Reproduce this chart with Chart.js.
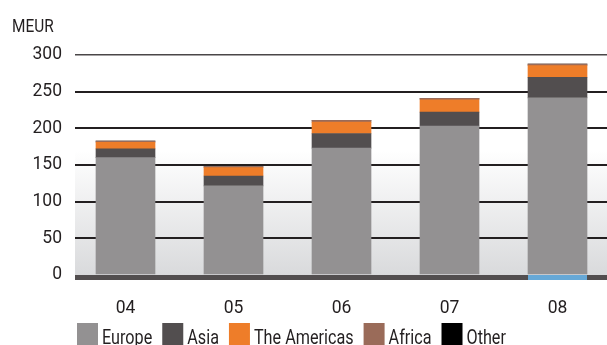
<!DOCTYPE html>
<html>
<head>
<meta charset="utf-8">
<script src="https://cdn.jsdelivr.net/npm/chart.js@4"></script>
<style>
  html, body { margin: 0; padding: 0; background: #fff; overflow: hidden; }
  #wrap { width: 607px; height: 345px; }
</style>
</head>
<body>
<div id="wrap"><canvas id="c" width="607" height="345"></canvas></div>
<script>
// Sales by region, MEUR
const categories = ['04', '05', '06', '07', '08'];
const europe   = [160, 121.5, 173, 203, 241.5];
const asia     = [12, 13.5, 20, 19, 28];
const americas = [9, 11.5, 15.5, 17, 16];
const africa   = [1.5, 1.5, 2.5, 2, 2];
const other    = [0, 0, 0, 0, 0];
const yTicks   = [0, 50, 100, 150, 200, 250, 300];
const seriesNames  = ['Europe', 'Asia', 'The Americas', 'Africa', 'Other'];
const seriesColors = ['#939192', '#524e4f', '#ee7d29', '#9a6b59', '#000000'];
const unitLabel = 'MEUR';
const baseHighlight = [false, false, false, false, true];

const FONT = "Roboto, 'Liberation Sans', sans-serif";
const INK = '#231f20';
const NARROW = 0.81; // horizontal squeeze for caption and legend text

const seriesValues = [europe, asia, americas, africa, other];

const datasets = seriesValues.map((vals, s) => ({
  label: seriesNames[s],
  data: vals.map((v, i) => ({ x: i, y: v })),
  backgroundColor: seriesColors[s],
  borderWidth: 0,
  barThickness: 59,
  stack: 'regions'
}));

// light grey shading rising from the lower part of the plot
const shading = {
  id: 'shading',
  beforeDraw(chart) {
    const { ctx, chartArea: a, scales: { y } } = chart;
    const g = ctx.createLinearGradient(0, y.getPixelForValue(170), 0, a.bottom);
    g.addColorStop(0, '#ffffff');
    g.addColorStop(1, '#d9dadc');
    ctx.save();
    ctx.fillStyle = g;
    ctx.fillRect(a.left, a.top, a.right - a.left, a.bottom - a.top);
    ctx.restore();
  }
};

function narrowText(ctx, text, x, y) {
  ctx.save();
  ctx.translate(x, y);
  ctx.scale(NARROW, 1);
  ctx.fillText(text, 0, 0);
  ctx.restore();
  return ctx.measureText(text).width * NARROW;
}

// thick base band under zero, plus unit caption and legend row
const extras = {
  id: 'extras',
  afterDatasetsDraw(chart) {
    const { ctx, chartArea: a, scales: { y } } = chart;
    const y0 = y.getPixelForValue(0);
    ctx.save();
    ctx.fillStyle = '#524e4f';
    ctx.fillRect(a.left, y0, a.right - a.left, 5);
    const bars = chart.getDatasetMeta(0).data;
    baseHighlight.forEach((on, i) => {
      if (!on) return;
      const b = bars[i];
      ctx.fillStyle = '#66a8d6';
      ctx.fillRect(b.x - b.width / 2, y0, b.width, 5);
    });
    ctx.restore();
  },
  afterDraw(chart) {
    const ctx = chart.ctx;
    ctx.save();
    ctx.fillStyle = INK;
    ctx.textBaseline = 'alphabetic';
    ctx.font = '19px ' + FONT;
    narrowText(ctx, unitLabel, 12, 32);

    ctx.font = '20px ' + FONT;
    let x = 77;
    seriesNames.forEach((name, s) => {
      ctx.fillStyle = seriesColors[s];
      ctx.fillRect(x, 323, 21, 22);
      ctx.fillStyle = INK;
      const w = narrowText(ctx, name, x + 25, 344);
      x += 25 + w + 10;
    });
    ctx.restore();
  }
};

Chart.defaults.font.family = FONT;

new Chart(document.getElementById('c'), {
  type: 'bar',
  data: { datasets },
  plugins: [shading, extras],
  options: {
    responsive: false,
    animation: false,
    devicePixelRatio: 1,
    layout: { padding: { top: 55, left: 0, right: 0, bottom: 0 } },
    plugins: { legend: { display: false }, tooltip: { enabled: false }, title: { display: false } },
    scales: {
      x: {
        type: 'linear',
        stacked: true,
        offset: false,
        min: -0.4676,
        max: 4.4583,
        afterBuildTicks: s => { s.ticks = categories.map((_, i) => ({ value: i })); },
        afterFit: s => { s.height = 70; },
        grid: { display: false },
        border: { display: false },
        ticks: {
          padding: 15,
          color: INK,
          font: { size: 17.5 },
          maxRotation: 0,
          autoSkip: false,
          callback: v => categories[v] ?? ''
        }
      },
      y: {
        stacked: true,
        min: 0,
        max: 300,
        afterBuildTicks: s => { s.ticks = yTicks.map(v => ({ value: v })); },
        afterFit: s => { s.width = 75; },
        border: { display: false },
        grid: {
          drawTicks: false,
          color: c => c.tick.value === 0 ? 'rgba(0,0,0,0)' : (c.tick.value === 300 ? '#4a4748' : INK),
          lineWidth: c => c.tick.value === 300 ? 1.5 : 2
        },
        ticks: {
          padding: 13,
          color: INK,
          font: { size: 17.5 }
        }
      }
    }
  }
});
</script>
</body>
</html>
